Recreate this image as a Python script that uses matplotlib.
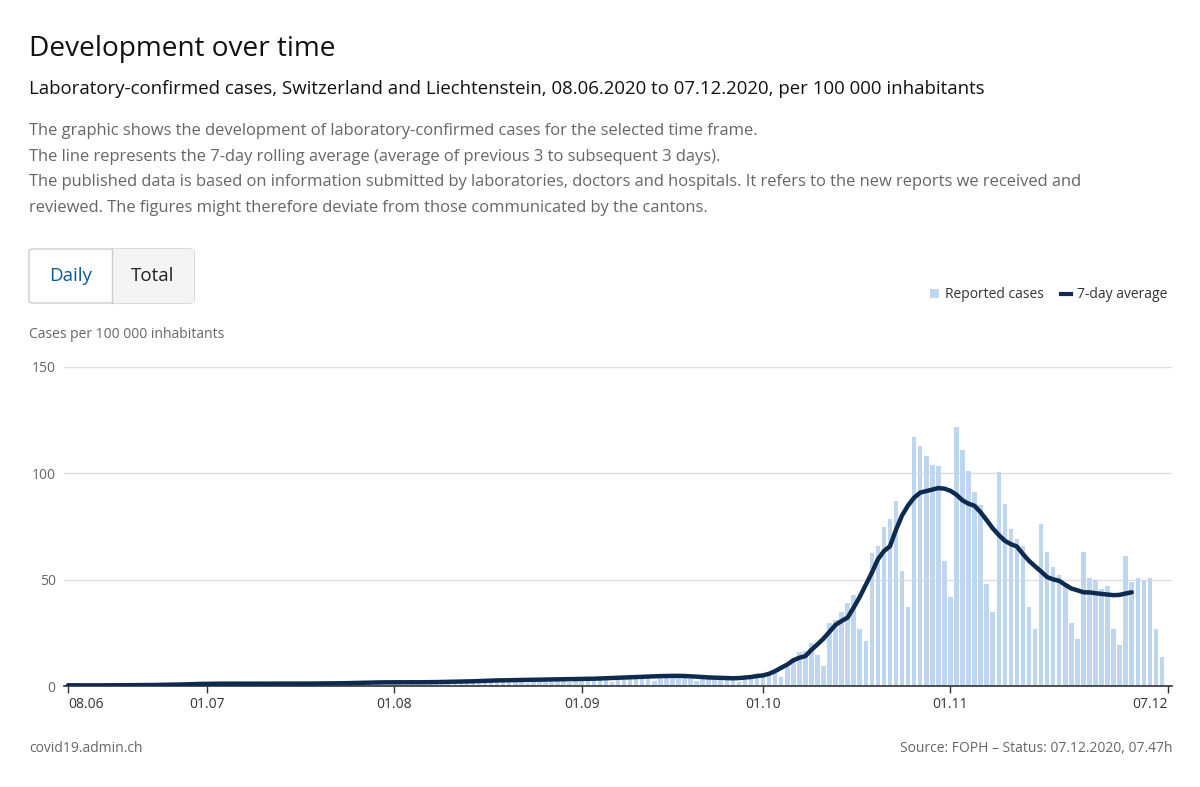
import matplotlib
matplotlib.use("Agg")
import matplotlib.pyplot as plt
from matplotlib.patches import FancyBboxPatch, Rectangle
import numpy as np
import pandas as pd

plt.rcParams["font.family"] = ["Open Sans", "DejaVu Sans"]

W, H = 1200, 787
C_BAR = "#bed6ef"
C_LINE = "#0f2a4f"
C_GREY = "#666666"

# daily reported cases per 100 000, 08.06.2020 .. 06.12.2020 (07.12 no data yet)
jun_sep = [
    # 08.06 - 28.06
    0.3, 0.4, 0.3, 0.3, 0.4, 0.2, 0.2,
    0.3, 0.4, 0.4, 0.4, 0.5, 0.3, 0.2,
    0.4, 0.6, 0.6, 0.7, 0.8, 0.5, 0.4,
    # 29.06 - 26.07
    0.9, 1.2, 1.3, 1.2, 1.4, 0.8, 0.6,
    1.2, 1.3, 1.2, 1.3, 1.3, 0.8, 0.6,
    1.1, 1.3, 1.2, 1.2, 1.4, 0.9, 0.6,
    1.2, 1.5, 1.4, 1.5, 1.6, 1.0, 0.7,
    # 27.07 - 16.08
    1.6, 2.0, 2.0, 2.1, 2.1, 1.3, 0.9,
    1.8, 2.1, 2.0, 2.0, 2.2, 1.3, 1.0,
    2.0, 2.4, 2.4, 2.5, 2.6, 1.6, 1.2,
    # 17.08 - 06.09
    2.8, 3.2, 3.1, 3.2, 3.3, 2.0, 1.5,
    3.3, 3.5, 3.4, 3.6, 3.6, 2.3, 1.7,
    3.5, 3.9, 4.0, 4.0, 4.1, 2.6, 1.9,
    # 07.09 - 30.09
    4.3, 4.8, 4.7, 4.9, 5.0, 3.2, 2.4,
    5.3, 5.6, 5.5, 5.6, 5.5, 3.4, 2.5,
    4.8, 4.6, 4.4, 4.3, 4.2, 2.7, 2.0,
    3.6, 4.3, 5.0,
]
oct_dec = [
    6, 6, 6, 4, 9, 13, 16, 16.5, 20, 14.5, 9.5,
    29.5, 31, 35, 39, 43, 27, 21,
    62.5, 66, 75, 78.5, 87, 54, 37,
    117, 113, 108, 104, 103.5, 59, 42,
    122, 111, 101, 91, 85, 48, 35,
    100.5, 85.5, 74, 69, 66, 37, 27,
    76, 63, 56, 52, 47.5, 29.5, 22,
    63, 51, 50, 45.5, 47, 27, 19.5,
    61, 49, 51, 50, 51, 27, 13.5,
]
cases = np.array(jun_sep + oct_dec)
dates = pd.date_range("2020-06-08", periods=len(cases), freq="D")
df = pd.DataFrame({"cases": cases}, index=dates)
df["avg"] = df["cases"].rolling(7, center=True, min_periods=4).mean()
df.loc[df.index > "2020-12-01", "avg"] = np.nan
x = (df.index - pd.Timestamp("2020-06-08")).days

fig = plt.figure(figsize=(W / 100, H / 100), dpi=100)
ax = fig.add_axes([64 / W, 1 - 686 / H, (1172 - 64) / W, (686 - 367) / H])

ax.bar(x, df["cases"], width=0.75, color=C_BAR, zorder=2)
ax.plot(x, df["avg"], color=C_LINE, lw=3.2, solid_capstyle="round", zorder=3)

ax.set_xlim(-0.66, 182.66)
ax.set_ylim(0, 150)
ax.set_yticks([0, 50, 100, 150])
ax.yaxis.grid(True, color="#dddddd", lw=1, zorder=0)
ax.tick_params(axis="y", length=0, labelsize=10, labelcolor=C_GREY, pad=6)
tick_days = [0, 23, 54, 85, 115, 146, 182]
ax.set_xticks(tick_days)
ax.set_xticklabels(["08.06", "01.07", "01.08", "01.09", "01.10", "01.11", "07.12"])
ax.tick_params(axis="x", length=5, width=1, color="#333333", labelsize=10,
               labelcolor="#333333", pad=3)
labels = ax.get_xticklabels()
labels[0].set_horizontalalignment("left")
labels[0].set_x(-3)
labels[-1].set_horizontalalignment("right")
for s in ["top", "right", "left"]:
    ax.spines[s].set_visible(False)
ax.spines["bottom"].set_color("#333333")
ax.spines["bottom"].set_linewidth(1.2)

# ── texts ─────────────────────────────────────────────────────────────────────
def ftext(px, py, s, **kw):
    fig.text(px / W, 1 - py / H, s, **kw)

ftext(29, 49, "Development over time", fontsize=20.2, color="#111111", va="center")
ftext(29, 89, "Laboratory-confirmed cases, Switzerland and Liechtenstein, 08.06.2020 to "
      "07.12.2020, per 100 000 inhabitants", fontsize=13.4, color="#111111", va="center")
desc = [
    "The graphic shows the development of laboratory-confirmed cases for the selected time frame.",
    "The line represents the 7-day rolling average (average of previous 3 to subsequent 3 days).",
    "The published data is based on information submitted by laboratories, doctors and hospitals. "
    "It refers to the new reports we received and",
    "reviewed. The figures might therefore deviate from those communicated by the cantons.",
]
for i, line in enumerate(desc):
    ftext(29, 131 + i * 25.7, line, fontsize=11.9, color=C_GREY, va="center")

# buttons
fig.patches.append(FancyBboxPatch((29 / W, 1 - 303 / H), 165 / W, 54 / H,
                                  boxstyle="round,pad=0,rounding_size=0.003",
                                  transform=fig.transFigure, facecolor="white",
                                  edgecolor="#cccccc", lw=1))
fig.patches.append(Rectangle((112 / W, 1 - 302.5 / H), 81.5 / W, 53 / H,
                             transform=fig.transFigure, facecolor="#f4f4f4",
                             edgecolor="none"))
fig.lines.append(plt.Line2D([112 / W, 112 / W], [1 - 303 / H, 1 - 249 / H],
                            transform=fig.transFigure, color="#cccccc", lw=1))
ftext(70.5, 276, "Daily", fontsize=13.5, color="#0b5a92", ha="center", va="center")
ftext(152.5, 276, "Total", fontsize=13.5, color="#222222", ha="center", va="center")

ftext(29, 334, "Cases per 100 000 inhabitants", fontsize=10, color=C_GREY, va="center")

# legend
fig.patches.append(Rectangle((930 / W, 1 - 298 / H), 9 / W, 9 / H,
                             transform=fig.transFigure, facecolor=C_BAR, edgecolor="none"))
ftext(945, 294, "Reported cases", fontsize=10, color="#333333", va="center")
fig.lines.append(plt.Line2D([1061 / W, 1071 / W], [1 - 294 / H] * 2,
                            transform=fig.transFigure, color=C_LINE, lw=3))
ftext(1077, 294, "7-day average", fontsize=10, color="#333333", va="center")

ftext(29, 748, "covid19.admin.ch", fontsize=10, color=C_GREY, va="center")
ftext(1172, 748, "Source: FOPH – Status: 07.12.2020, 07.47h", fontsize=10,
      color=C_GREY, va="center", ha="right")

fig.savefig("out.png", dpi=100)
